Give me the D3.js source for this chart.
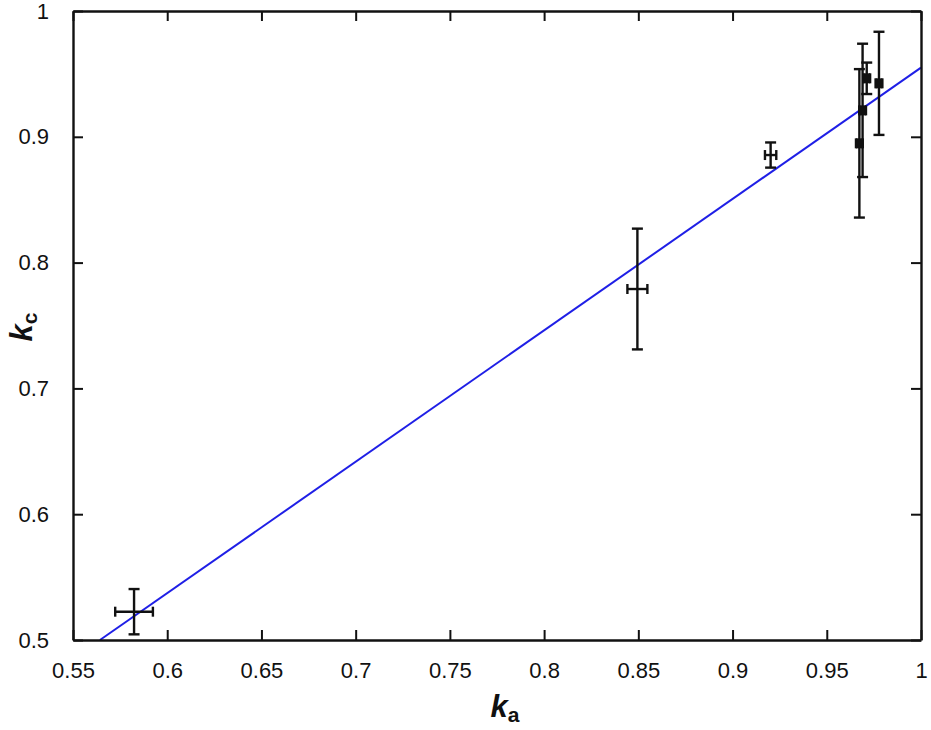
<!DOCTYPE html>
<html><head><meta charset="utf-8">
<script src="https://d3js.org/d3.v7.min.js"></script>
<style>body{margin:0;background:#fff}svg{display:block}text{font-family:"Liberation Sans",Arial,sans-serif}</style>
</head><body>
<script>
const ka      = [0.5824, 0.8495, 0.9202, 0.9673, 0.9690, 0.9712, 0.9777];
const kc      = [0.5225, 0.7790, 0.8855, 0.8948, 0.9210, 0.9465, 0.9425];
const kaErr   = [0.0100, 0.0053, 0.0030, 0.0018, 0.0018, 0.0018, 0.0018];
const kcErr   = [0.0180, 0.0480, 0.0100, 0.0590, 0.0530, 0.0125, 0.0410];
const fitSlope = [1.0443];
const fitIntercept = [-0.0893];
const xTicks = [0.55,0.6,0.65,0.7,0.75,0.8,0.85,0.9,0.95,1];
const yTicks = [0.5,0.6,0.7,0.8,0.9,1];
const xTickLabels = ["0.55","0.6","0.65","0.7","0.75","0.8","0.85","0.9","0.95","1"];
const yTickLabels = ["0.5","0.6","0.7","0.8","0.9","1"];

const W=931,H=730;
const m={left:73,right:10,top:11,bottom:90};
const svg=d3.select("body").append("svg").attr("width",W).attr("height",H);
const x=d3.scaleLinear().domain([0.55,1]).range([m.left,W-m.right]);
const y=d3.scaleLinear().domain([0.5,1]).range([H-m.bottom,m.top]);

// fit line
const x0 = (0.5 - fitIntercept[0]) / fitSlope[0];
svg.append("line")
  .attr("x1",x(x0)).attr("y1",y(0.5))
  .attr("x2",x(1)).attr("y2",y(fitSlope[0]*1+fitIntercept[0]))
  .attr("stroke","#1f1fe6").attr("stroke-width",2);

// error bars
const g=svg.append("g").attr("stroke","#111").attr("stroke-width",2.4).attr("fill","none");
const cap=5;
ka.forEach((v,i)=>{
  const cx=x(v), cy=y(kc[i]);
  const yt=y(kc[i]+kcErr[i]), yb=y(kc[i]-kcErr[i]);
  const xl=x(v-kaErr[i]), xr=x(v+kaErr[i]);
  g.append("line").attr("x1",cx).attr("x2",cx).attr("y1",yt).attr("y2",yb);
  g.append("line").attr("x1",cx-cap-0.5).attr("x2",cx+cap+0.5).attr("y1",yt).attr("y2",yt);
  g.append("line").attr("x1",cx-cap-0.5).attr("x2",cx+cap+0.5).attr("y1",yb).attr("y2",yb);
  g.append("line").attr("x1",xl).attr("x2",xr).attr("y1",cy).attr("y2",cy);
  g.append("line").attr("x1",xl).attr("x2",xl).attr("y1",cy-cap).attr("y2",cy+cap);
  g.append("line").attr("x1",xr).attr("x2",xr).attr("y1",cy-cap).attr("y2",cy+cap);
  if (xr-xl < 8) {
    svg.append("rect").attr("x",xl).attr("y",cy-cap).attr("width",xr-xl).attr("height",2*cap).attr("fill","#111");
  }
});

// axes with inward ticks
const fs=22;
const xa=svg.append("g").attr("transform",`translate(0,${y(0.5)})`)
  .call(d3.axisBottom(x).tickValues(xTicks).tickFormat((d,i)=>xTickLabels[i]).tickSizeInner(-10).tickSizeOuter(0).tickPadding(22));
const xt=svg.append("g").attr("transform",`translate(0,${y(1)})`)
  .call(d3.axisTop(x).tickValues(xTicks).tickFormat("").tickSizeInner(-10).tickSizeOuter(0));
const ya=svg.append("g").attr("transform",`translate(${x(0.55)},0)`)
  .call(d3.axisLeft(y).tickValues(yTicks).tickFormat((d,i)=>yTickLabels[i]).tickSizeInner(-10).tickSizeOuter(0).tickPadding(24));
const yr=svg.append("g").attr("transform",`translate(${x(1)},0)`)
  .call(d3.axisRight(y).tickValues(yTicks).tickFormat("").tickSizeInner(-10).tickSizeOuter(0));
[xa,xt,ya,yr].forEach(a=>{
  a.selectAll("path").attr("stroke","#111").attr("stroke-width",2.4);
  a.selectAll("line").attr("stroke","#111").attr("stroke-width",2);
  a.selectAll("text").attr("font-size",fs).attr("fill","#111").attr("font-family","Liberation Sans, Arial, sans-serif");
});

// axis labels
const xl=svg.append("text").attr("x",505).attr("y",717).attr("text-anchor","middle").attr("fill","#111");
xl.append("tspan").text("k").attr("font-size",31).attr("font-weight","bold").attr("font-style","italic");
xl.append("tspan").text("a").attr("font-size",21).attr("font-weight","bold").attr("dy",5);
const yl=svg.append("text").attr("transform","translate(32,327) rotate(-90)").attr("text-anchor","middle").attr("fill","#111");
yl.append("tspan").text("k").attr("font-size",31).attr("font-weight","bold").attr("font-style","italic");
yl.append("tspan").text("c").attr("font-size",21).attr("font-weight","bold").attr("dy",5);
</script>
</body></html>
